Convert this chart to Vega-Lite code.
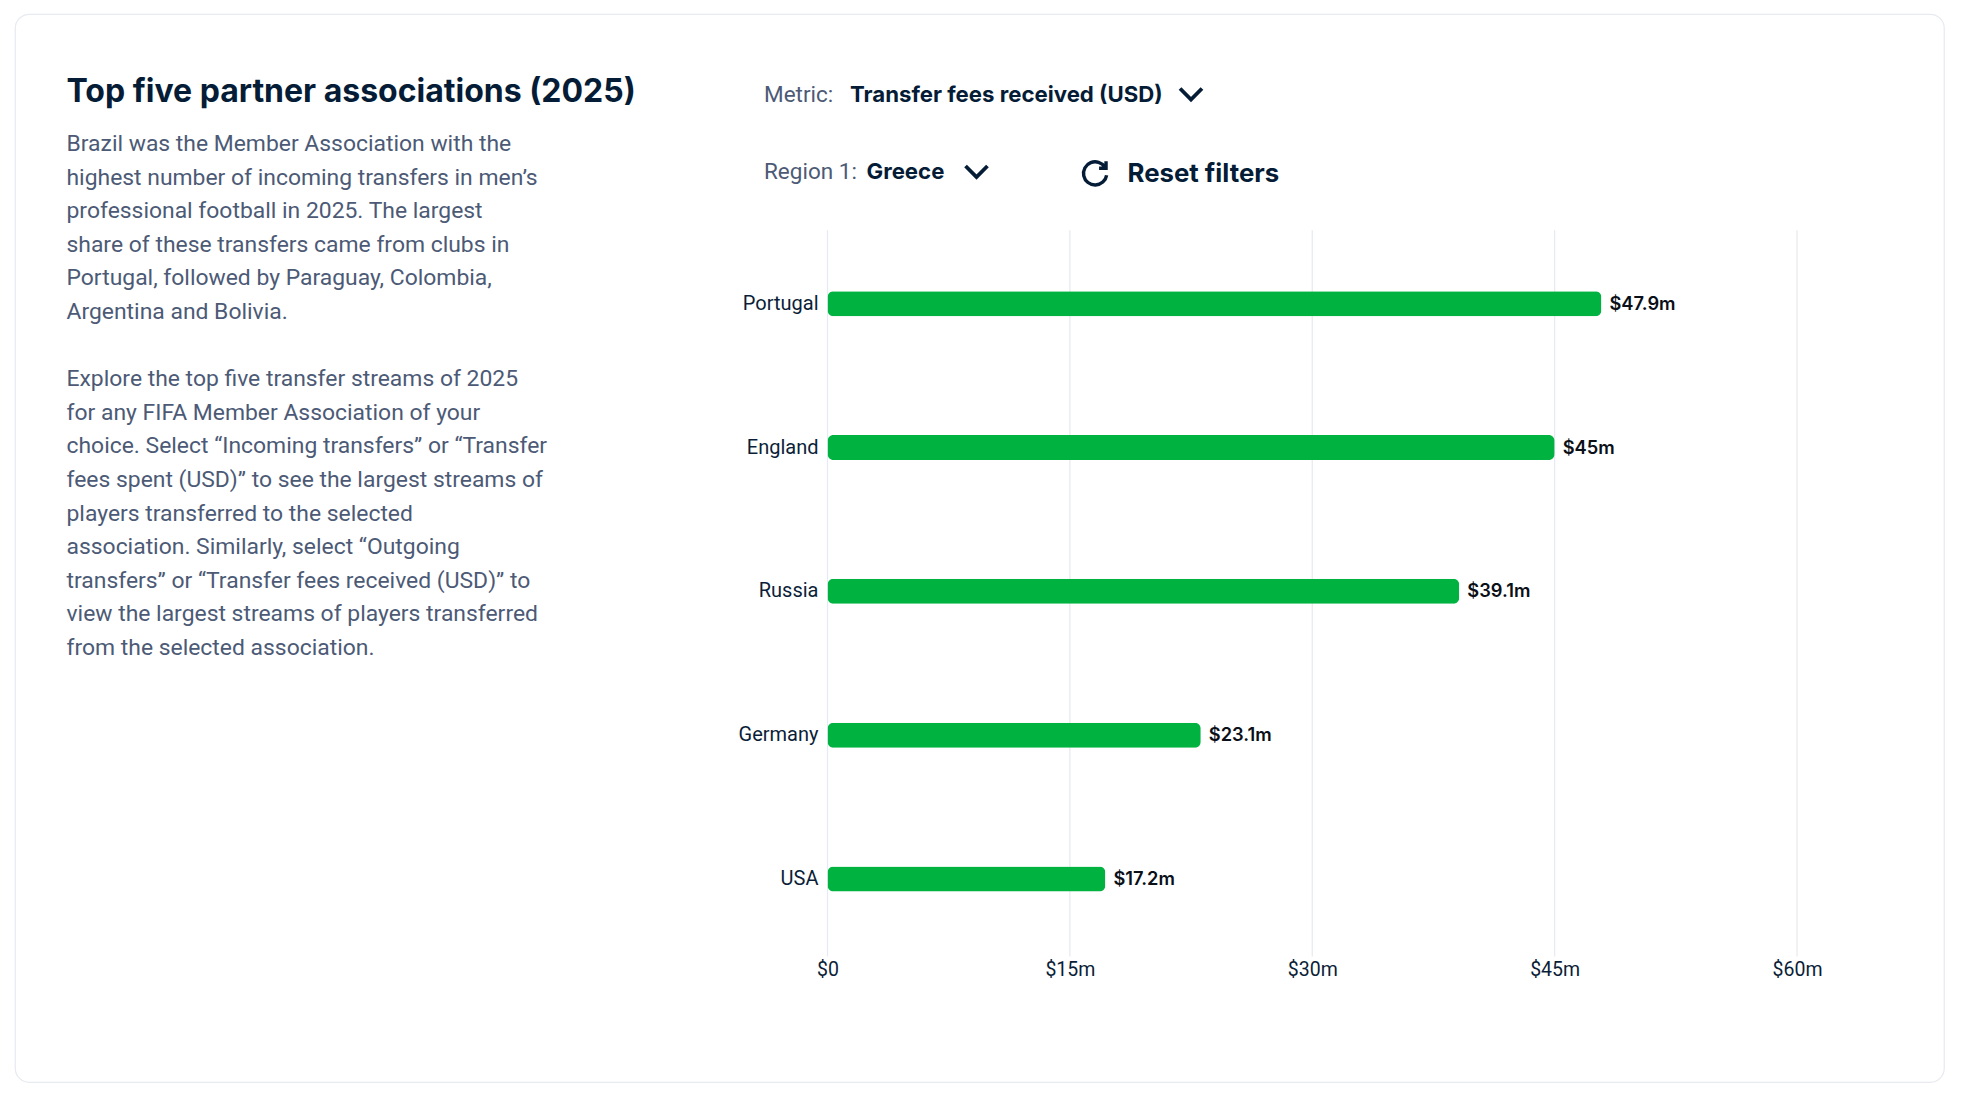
{
"$schema":"https://vega.github.io/schema/vega-lite/v6.json",
"width":1929,"height":1068,
"autosize":{"type":"none"},
"padding":{"left":15,"top":14,"right":20,"bottom":14},
"background":"#ffffff",
"view":{"stroke":"#e8eaf1","strokeWidth":1.25,"cornerRadius":14,"fill":"#ffffff"},
"config":{"font":"Roboto"},
"resolve":{"scale":{"x":"independent","y":"independent","size":"independent"},"axis":{"x":"independent","y":"independent"}},
"datasets":{
"bars":[
{"association":"Portugal","fees":47.9,"label":"$47.9m"},
{"association":"England","fees":45,"label":"$45m"},
{"association":"Russia","fees":39.1,"label":"$39.1m"},
{"association":"Germany","fees":23.1,"label":"$23.1m"},
{"association":"USA","fees":17.2,"label":"$17.2m"}]
},
"layer":[
{"data":{"values":[{"panel":"intro","text":"Top five partner associations (2025)"}]},
"mark":{"type":"text","align":"left","baseline":"middle","font":"Inter","fontSize":32,"fontWeight":700,"color":"#051c36"},
"encoding":{"x":{"field":"panel","type":"nominal","axis":null,"scale":{"type":"point","padding":0,"range":[51.5,51.5]}},
"y":{"field":"panel","type":"nominal","axis":null,"scale":{"type":"point","padding":0,"range":[77.5,77.5]}},
"text":{"field":"text"}}},
{"data":{"values":[
{"panel":"intro","line":1,"text":"Brazil was the Member Association with the"},
{"panel":"intro","line":2,"text":"highest number of incoming transfers in men’s"},
{"panel":"intro","line":3,"text":"professional football in 2025. The largest"},
{"panel":"intro","line":4,"text":"share of these transfers came from clubs in"},
{"panel":"intro","line":5,"text":"Portugal, followed by Paraguay, Colombia,"},
{"panel":"intro","line":6,"text":"Argentina and Bolivia."},
{"panel":"intro","line":8,"text":"Explore the top five transfer streams of 2025"},
{"panel":"intro","line":9,"text":"for any FIFA Member Association of your"},
{"panel":"intro","line":10,"text":"choice. Select “Incoming transfers” or “Transfer"},
{"panel":"intro","line":11,"text":"fees spent (USD)” to see the largest streams of"},
{"panel":"intro","line":12,"text":"players transferred to the selected"},
{"panel":"intro","line":13,"text":"association. Similarly, select “Outgoing"},
{"panel":"intro","line":14,"text":"transfers” or “Transfer fees received (USD)” to"},
{"panel":"intro","line":15,"text":"view the largest streams of players transferred"},
{"panel":"intro","line":16,"text":"from the selected association."}]},
"mark":{"type":"text","align":"left","baseline":"middle","font":"Roboto","fontSize":22.9,"fontWeight":400,"color":"#4c5a76"},
"encoding":{"x":{"field":"panel","type":"nominal","axis":null,"scale":{"type":"point","padding":0,"range":[51.5,51.5]}},
"y":{"field":"line","type":"quantitative","axis":null,"scale":{"domain":[1,16],"range":[130,634],"zero":false,"nice":false}},
"text":{"field":"text"}}},
{"data":{"values":[{"slot":1,"row":1,"text":"Metric:"},{"slot":1,"row":2,"text":"Region 1:"}]},
"mark":{"type":"text","align":"left","baseline":"middle","font":"Roboto","fontSize":22.5,"color":"#4c5a76"},
"encoding":{"x":{"field":"slot","type":"quantitative","axis":null,"scale":{"domain":[1,2,3],"range":[749,835,851.5],"zero":false,"nice":false}},
"y":{"field":"row","type":"ordinal","axis":null,"scale":{"type":"point","padding":0,"domain":[1,2],"range":[81,158]}},
"text":{"field":"text"}}},
{"data":{"values":[{"slot":2,"row":1,"text":"Transfer fees received (USD)"},{"slot":3,"row":2,"text":"Greece"}]},
"mark":{"type":"text","align":"left","baseline":"middle","font":"Inter","fontSize":22.2,"fontWeight":700,"color":"#051c36"},
"encoding":{"x":{"field":"slot","type":"quantitative","axis":null,"scale":{"domain":[1,2,3],"range":[749,835,851.5],"zero":false,"nice":false}},
"y":{"field":"row","type":"ordinal","axis":null,"scale":{"type":"point","padding":0,"domain":[1,2],"range":[80.5,157.5]}},
"text":{"field":"text"}}},
{"data":{"values":[{"slot":1,"row":1,"icon":"chevron"},{"slot":2,"row":2,"icon":"chevron"}]},
"mark":{"type":"point","shape":"M-1,-0.5L0,0.5L1,-0.5","filled":false,"size":480,"strokeWidth":3.8,"opacity":1,"color":"#051c36"},
"encoding":{"x":{"field":"slot","type":"quantitative","axis":null,"scale":{"domain":[1,2],"range":[1176,961.5],"zero":false,"nice":false}},
"y":{"field":"row","type":"ordinal","axis":null,"scale":{"type":"point","padding":0,"domain":[1,2],"range":[80,157.5]}}}},
{"data":{"values":[{"button":"reset","text":"Reset filters"}]},
"mark":{"type":"text","align":"left","baseline":"middle","font":"Inter","fontSize":25.8,"fontWeight":700,"color":"#051c36"},
"encoding":{"x":{"field":"button","type":"nominal","axis":null,"scale":{"type":"point","padding":0,"range":[1112.5,1112.5]}},
"y":{"field":"button","type":"nominal","axis":null,"scale":{"type":"point","padding":0,"range":[160,160]}},
"text":{"field":"text"}}},
{"data":{"values":[{"button":"reset"}]},
"mark":{"type":"point","shape":"M0.85,-0.6A1,1,0,1,0,1,0.1M0.95,-1.1L0.95,-0.5L0.35,-0.5","filled":false,"size":540,"strokeWidth":3.4,"opacity":1,"color":"#051c36"},
"encoding":{"x":{"field":"button","type":"nominal","axis":null,"scale":{"type":"point","padding":0,"range":[1080,1080]}},
"y":{"field":"button","type":"nominal","axis":null,"scale":{"type":"point","padding":0,"range":[160,160]}}}},
{"data":{"values":[{"tick":0},{"tick":15},{"tick":30},{"tick":45},{"tick":60}]},
"mark":{"type":"rule","color":"#e8eaf1","strokeWidth":1.25},
"encoding":{
"x":{"field":"tick","type":"quantitative","axis":null,"scale":{"domain":[0,60],"range":[812.5,1782],"nice":false}},
"y":{"datum":0,"type":"quantitative","axis":null,"scale":{"domain":[0,1],"range":[216.3,942.4],"zero":false,"nice":false}},
"y2":{"datum":1}}},
{"data":{"name":"bars"},
"mark":{"type":"bar","color":"#00b341","cornerRadius":6},
"encoding":{
"x":{"field":"fees","type":"quantitative","scale":{"domain":[0,60],"range":[812.5,1782],"nice":false},
"axis":{"values":[0,15,30,45,60],"labelExpr":"datum.value==0?'$0':'$'+datum.value+'m'","title":null,"domain":false,"ticks":false,"grid":false,"labelFlush":false,"offset":-125.6,"labelPadding":4.5,"labelFont":"Roboto","labelFontSize":19.5,"labelColor":"#0b1e38"}},
"y":{"field":"association","type":"nominal","sort":null,"scale":{"domain":["Portugal","England","Russia","Germany","USA"],"range":[216.3,942.4],"paddingInner":0.826,"paddingOuter":0.4375,"align":0.484},
"axis":{"title":null,"domain":false,"ticks":false,"grid":false,"offset":-812.5,"labelPadding":9.5,"labelFont":"Roboto","labelFontSize":20,"labelColor":"#0b1e38"}}}},
{"data":{"name":"bars"},
"mark":{"type":"text","align":"left","baseline":"middle","dx":8,"dy":1,"font":"Inter","fontSize":18.3,"fontWeight":600,"color":"#0a0f18"},
"encoding":{
"x":{"field":"fees","type":"quantitative","axis":null,"scale":{"domain":[0,60],"range":[812.5,1782],"nice":false}},
"y":{"field":"association","type":"nominal","sort":null,"axis":null,"scale":{"type":"band","domain":["Portugal","England","Russia","Germany","USA"],"range":[216.3,942.4],"paddingInner":0.826,"paddingOuter":0.4375,"align":0.484}},
"text":{"field":"label"}}}
]
}
